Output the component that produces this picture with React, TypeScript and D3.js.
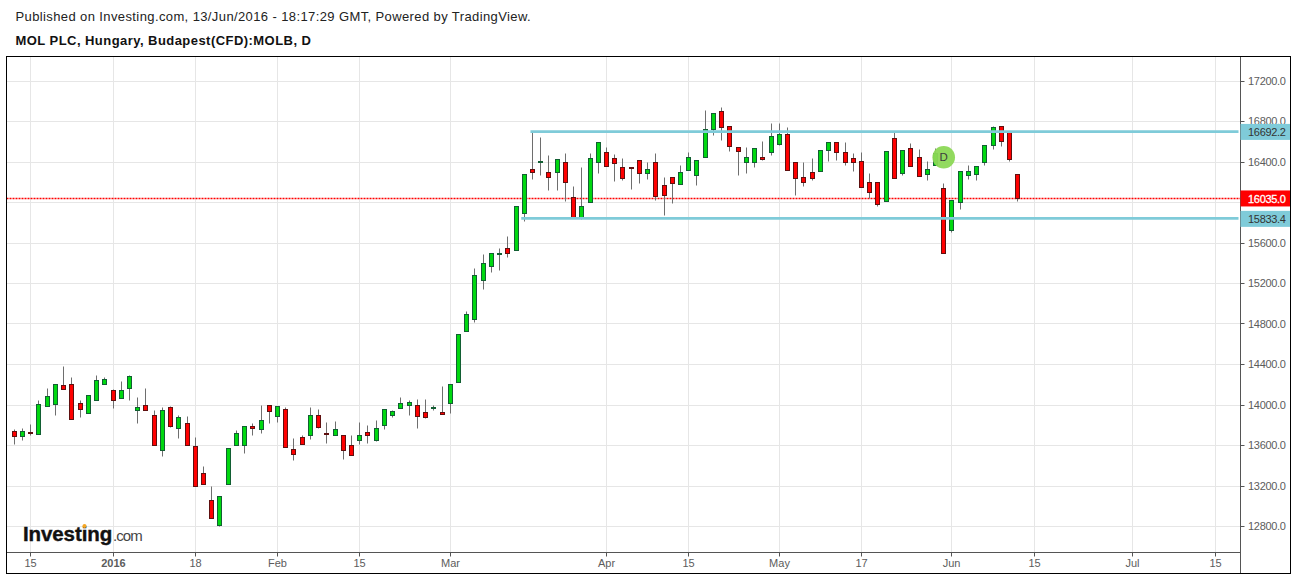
import React from 'react';
import * as d3 from 'd3';

// Daily candles
const opens = [13735,13692,13725,13705,13981,14001,14189,14199,14011,13912,14041,14199,14139,14060,14159,13942,13991,13892,13547,13972,13764,13813,13586,13320,13053,12813,13211,13596,13596,13787,13754,13991,13883,13952,13557,13675,13695,13892,13715,13695,13695,13596,13646,13725,13646,13794,13892,13962,13991,13991,13922,13962,13922,14011,14218,14722,14841,15226,15364,15489,15542,15522,15888,16322,16391,16293,16293,16391,16046,15848,15996,16391,16490,16431,16342,16342,16411,16283,16391,16164,16243,16174,16312,16263,16441,16717,16895,16747,16540,16391,16391,16441,16490,16569,16668,16391,16243,16293,16303,16510,16589,16490,16431,16401,16194,16194,16006,16628,16283,16530,16441,16273,16362,16135,15720,15996,16263,16273,16391,16559,16747,16688,16273];
const highs = [13758,13764,13804,14041,14159,14199,14380,14268,14041,14090,14288,14268,14149,14228,14291,14070,14159,13942,13972,13981,13892,13883,13675,13389,13191,13093,13567,13744,13784,13813,13991,13991,13981,13972,13665,13695,13972,13952,13823,13833,13695,13695,13823,13794,13843,13952,13942,14070,14041,14050,14050,13991,14179,14199,14693,14920,15345,15483,15493,15542,15661,15957,16273,16688,16638,16460,16421,16480,16154,16342,16480,16589,16540,16470,16431,16342,16411,16391,16480,16243,16243,16362,16490,16411,16905,16875,16935,16747,16540,16540,16530,16599,16777,16777,16737,16391,16391,16431,16510,16589,16589,16589,16480,16490,16283,16194,16500,16698,16510,16579,16520,16401,16530,16184,16016,16303,16362,16352,16559,16747,16747,16688,16273];
const lows = [13613,13652,13695,13705,13981,13899,14149,13853,13879,13912,14041,14199,13968,14060,14044,13820,13942,13596,13494,13774,13672,13596,13191,13211,12875,12803,13211,13596,13524,13702,13721,13813,13823,13576,13455,13606,13655,13764,13623,13695,13465,13497,13606,13623,13636,13754,13873,13962,13899,13771,13863,13942,13902,13919,14218,14722,14811,15137,15305,15331,15453,15522,15809,16224,16263,16115,16115,16006,15848,15835,15996,16283,16352,16204,16214,16125,16184,16224,16016,15868,15987,16174,16312,16164,16441,16665,16615,16507,16263,16289,16349,16418,16460,16559,16312,16072,16161,16220,16303,16408,16418,16368,16309,16145,16036,15957,16006,16233,16263,16352,16253,16214,16362,15493,15700,15927,16224,16214,16362,16520,16549,16401,16006];
const closes = [13692,13735,13715,14001,14080,14199,14149,13853,13952,14090,14238,14248,14041,14139,14278,13972,13942,13596,13942,13784,13873,13596,13191,13211,12875,13093,13567,13715,13784,13771,13843,13932,13981,13576,13507,13606,13892,13774,13705,13754,13547,13497,13695,13695,13764,13952,13932,14011,14021,13883,13873,13972,13902,14199,14693,14890,15275,15394,15493,15496,15493,15957,16273,16293,16401,16243,16421,16194,15848,15957,16431,16589,16352,16382,16233,16332,16283,16322,16056,16066,16184,16293,16441,16411,16717,16875,16737,16549,16500,16441,16530,16428,16648,16668,16312,16233,16194,16233,16510,16589,16490,16391,16391,16145,16095,15977,16500,16233,16510,16352,16253,16322,16480,15493,16016,16303,16303,16352,16559,16737,16599,16421,16035];

// Axis labels and the bar each one sits on
const priceTicks = [17200,16800,16400,16000,15600,15200,14800,14400,14000,13600,13200,12800];
const hiddenPriceLabels = [16000]; // sits under the last price tag
const dateLabels = ['15','2016','18','Feb','15','Mar','Apr','15','May','17','Jun','15','Jul','15'];
const dateBars = [2,12,22,32,42,53,72,82,93,103,114,124,136,146];

const upperLevel = 16692.2;
const lowerLevel = 15833.4;
const lastPrice = 16035.0;
const upperStartBar = 63;
const lowerStartBar = 62;
const markerBar = 113;
const markerPrice = 16442;

const FONT = 'Liberation Sans, Arial, sans-serif';
const GRID = '#e6e6e6';
const AXIS = '#555555';
const LABEL = '#5c5c5c';
const LEVEL = '#7fcbd9';

const left = 6.5;
const right = 1290.5;
const top = 56.5;
const bottom = 573.5;
const axisX = 1240.5;
const axisY = 552.5;

const App: React.FC = () => {
  const x = d3.scaleLinear().domain([0, 146]).range([14.3, 1215.15]);
  const y = d3.scaleLinear().domain([12800, 17200]).range([526, 80.5]);
  const px = (i: number) => Math.floor(x(i)) + 0.5;
  const py = (v: number) => Math.round(y(v)) + 0.5;

  const tag = (v: number, fill: string, color: string, thick = 0) => (
    <g>
      <rect x={axisX} y={y(v) - 8} width={right - axisX} height={16} fill={fill} />
      <text x={1248} y={y(v) + 4.2} fontSize={11} letterSpacing={-0.3} fill={color} stroke={color} strokeWidth={thick} fontFamily={FONT}>{v.toFixed(1)}</text>
    </g>
  );

  return (
    <svg width={1297} height={576} style={{ position: 'absolute', left: 0, top: 0, background: '#fff' }}>
      <text x={15.5} y={21} fontSize={13} letterSpacing={0.39} fill="#222" fontFamily={FONT}>
        Published on Investing.com, 13/Jun/2016 - 18:17:29 GMT, Powered by TradingView.
      </text>
      <text x={15.5} y={45} fontSize={13} letterSpacing={0.45} fontWeight="bold" fill="#111" fontFamily={FONT}>
        MOL PLC, Hungary, Budapest(CFD):MOLB, D
      </text>

      {/* grid */}
      {priceTicks.map(p => (
        <line key={p} x1={left} x2={axisX} y1={py(p)} y2={py(p)} stroke={GRID} />
      ))}
      {dateBars.map((b, i) => (
        <line key={i} x1={px(b)} x2={px(b)} y1={top} y2={axisY} stroke={GRID} />
      ))}

      {/* last price */}
      <line x1={left} x2={axisX} y1={py(lastPrice)} y2={py(lastPrice)} stroke="#ff0000" strokeWidth={1.3} strokeDasharray="2 1" />

      {/* candles */}
      {closes.map((c, i) => {
        const up = c >= opens[i];
        const bodyTop = py(Math.max(opens[i], c));
        const bodyBottom = py(Math.min(opens[i], c));
        return (
          <g key={i}>
            <line x1={px(i)} x2={px(i)} y1={py(highs[i])} y2={py(lows[i])} stroke="#6e6e6e" />
            <rect
              x={px(i) - 2}
              y={bodyTop}
              width={4}
              height={Math.max(bodyBottom - bodyTop, 1)}
              fill={up ? '#00d810' : '#ff0000'}
              stroke={up ? '#125f33' : '#5f1010'}
            />
          </g>
        );
      })}

      {/* support and resistance */}
      <line x1={x(upperStartBar) - 2} x2={axisX - 2} y1={y(upperLevel) - 0.3} y2={y(upperLevel) - 0.3} stroke={LEVEL} strokeWidth={2.8} />
      <line x1={x(lowerStartBar) - 3} x2={axisX - 2} y1={y(lowerLevel) - 0.5} y2={y(lowerLevel) - 0.5} stroke={LEVEL} strokeWidth={2.8} />

      {/* dividend marker */}
      <circle cx={x(markerBar)} cy={y(markerPrice)} r={11.3} fill="#8cd856" fillOpacity={0.95} />
      <text x={x(markerBar)} y={y(markerPrice) + 4} fontSize={11.5} textAnchor="middle" fill="#3d3d3d" fontFamily={FONT}>D</text>

      {/* logo */}
      <text x={23} y={541} fontSize={20.5} letterSpacing={-0.1} fontWeight="bold" fill="#111" stroke="#111" strokeWidth={0.4} fontFamily={FONT}>Investing</text>
      <circle cx={84.5} cy={526} r={2} fill="#f5a623" />
      <text x={113} y={541} fontSize={15} fill="#444" letterSpacing={-0.9} fontFamily={FONT}>.com</text>

      {/* price axis */}
      <line x1={axisX} x2={axisX} y1={top} y2={bottom} stroke={AXIS} />
      {priceTicks.map(p => (
        <g key={p}>
          <line x1={axisX} x2={axisX + 4} y1={py(p)} y2={py(p)} stroke={AXIS} />
          {!hiddenPriceLabels.includes(p) && (
            <text x={1248} y={y(p) + 4.2} fontSize={11} letterSpacing={-0.3} fill={LABEL} fontFamily={FONT}>{p.toFixed(1)}</text>
          )}
        </g>
      ))}
      {tag(upperLevel, LEVEL, '#333')}
      {tag(lowerLevel, LEVEL, '#333')}
      {tag(lastPrice, '#ff0000', '#fff', 0.3)}

      {/* time axis */}
      <line x1={left} x2={axisX} y1={axisY} y2={axisY} stroke={AXIS} />
      {dateBars.map((b, i) => (
        <g key={i}>
          <line x1={px(b)} x2={px(b)} y1={axisY} y2={axisY + 4} stroke={AXIS} />
          <text
            x={px(b)}
            y={567}
            fontSize={11}
            textAnchor="middle"
            fontWeight={dateLabels[i] === '2016' ? 'bold' : 'normal'}
            fill={LABEL}
            fontFamily={FONT}
          >
            {dateLabels[i]}
          </text>
        </g>
      ))}

      {/* frame */}
      <rect x={left} y={top} width={right - left} height={bottom - top} fill="none" stroke="#000" />
    </svg>
  );
};

export default App;
